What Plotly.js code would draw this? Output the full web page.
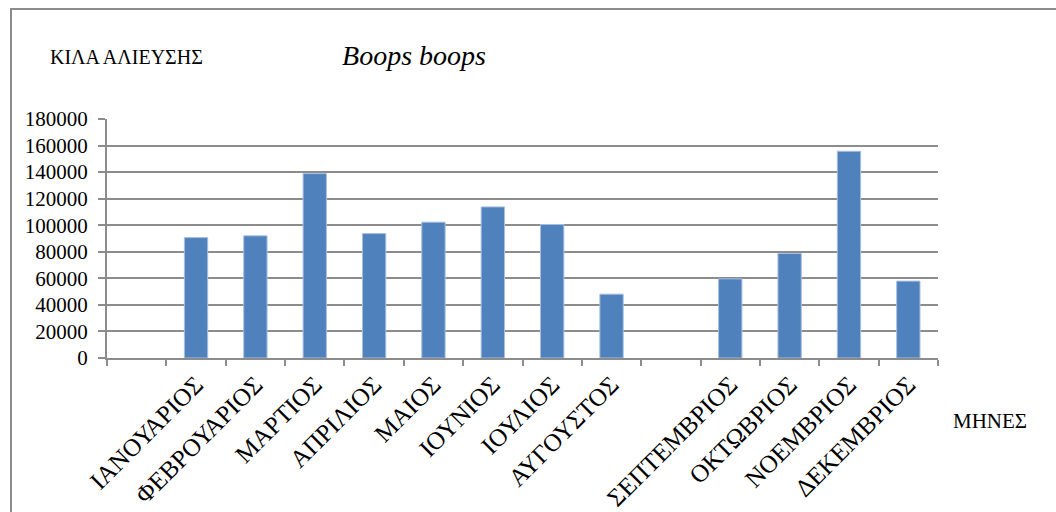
<!DOCTYPE html>
<html>
<head>
<meta charset="utf-8">
<script src="https://cdn.plot.ly/plotly-3.0.1.min.js"></script>
<style>
  html, body { margin: 0; padding: 0; background: #fff; }
  #wrap { position: relative; width: 1056px; height: 512px; overflow: hidden; }
  #chart { width: 1056px; height: 512px; }
  #frame { position: absolute; left: 10px; top: 8px; right: -5px; bottom: -5px;
           border-left: 2px solid #8c8c8c; border-top: 2px solid #8c8c8c; pointer-events: none; }
</style>
</head>
<body>
<div id="wrap"><div id="chart"></div><div id="frame"></div></div>
<script>
const categories = [" ", "ΙΑΝΟΥΑΡΙΟΣ", "ΦΕΒΡΟΥΑΡΙΟΣ", "ΜΑΡΤΙΟΣ", "ΑΠΡΙΛΙΟΣ", "ΜΑΙΟΣ", "ΙΟΥΝΙΟΣ",
  "ΙΟΥΛΙΟΣ", "ΑΥΓΟΥΣΤΟΣ", "  ", "ΣΕΠΤΕΜΒΡΙΟΣ", "ΟΚΤΩΒΡΙΟΣ", "ΝΟΕΜΒΡΙΟΣ", "ΔΕΚΕΜΒΡΙΟΣ"];
const catchKg = [null, 90700, 92000, 138900, 93700, 102300, 113800, 100500, 48100, null, 59600, 78700, 155700, 57900];
const yTicks = [0, 20000, 40000, 60000, 80000, 100000, 120000, 140000, 160000, 180000];
const titleText = "Boops boops";
const yLabel = "ΚΙΛΑ ΑΛΙΕΥΣΗΣ";
const xLabel = "ΜΗΝΕΣ";

const serif = "Liberation Serif, Times New Roman, serif";

const trace = {
  type: "bar",
  x: categories,
  y: catchKg,
  marker: { color: "#4f81bd", line: { color: "#a8bfdf", width: 1 } },
  hoverinfo: "x+y"
};

const layout = {
  width: 1056, height: 512,
  margin: { l: 107, r: 118, t: 119, b: 154 },
  paper_bgcolor: "#ffffff", plot_bgcolor: "#ffffff",
  showlegend: false,
  bargap: 0.607,
  title: { text: "<i>" + titleText + "</i>", font: { family: serif, size: 28, color: "#000" },
           x: 414 / 1056, xref: "container", xanchor: "center", y: 0.893, yref: "container", yanchor: "middle" },
  xaxis: {
    type: "category",
    categoryorder: "array", categoryarray: categories,
    tickson: "boundaries",
    ticks: "outside", ticklen: 6, tickwidth: 2, tickcolor: "#8c8c8c",
    showline: true, linecolor: "#8c8c8c", linewidth: 2,
    showgrid: false, zeroline: false,
    tickangle: -45,
    tickfont: { family: serif, size: 25, color: "#000" },
    fixedrange: true
  },
  yaxis: {
    range: [0, 180000],
    tickvals: yTicks, ticktext: yTicks.map(String),
    ticks: "outside", ticklen: 7, tickwidth: 2, tickcolor: "#8c8c8c",
    showline: true, linecolor: "#8c8c8c", linewidth: 2,
    showgrid: true, gridcolor: "#8c8c8c", gridwidth: 2,
    zeroline: false,
    tickfont: { family: serif, size: 21, color: "#000" },
    ticklabelstandoff: 6,
    fixedrange: true
  },
  annotations: [
    { text: yLabel, xref: "paper", yref: "paper", x: -0.071, y: 1.26, xanchor: "left", yanchor: "middle",
      showarrow: false, font: { family: serif, size: 20, color: "#000" } },
    { text: xLabel, xref: "paper", yref: "paper", x: 1.016, y: -0.265, xanchor: "left", yanchor: "middle",
      showarrow: false, font: { family: serif, size: 21, color: "#000" } }
  ]
};

Plotly.newPlot("chart", [trace], layout, { displayModeBar: false });
</script>
</body>
</html>
